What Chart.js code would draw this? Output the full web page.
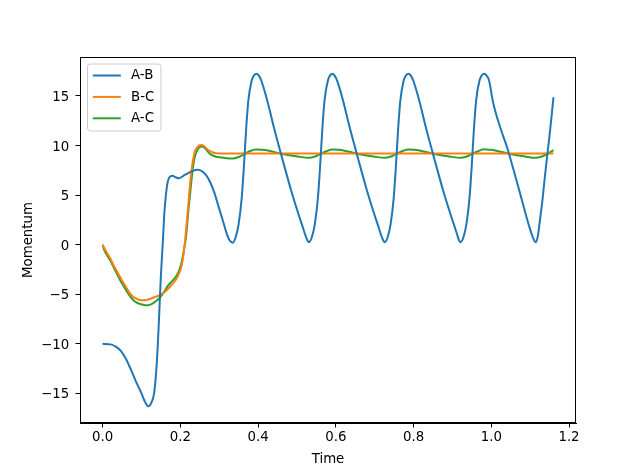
<!DOCTYPE html>
<html>
<head>
<meta charset="utf-8">
<script src="https://cdn.jsdelivr.net/npm/chart.js@4"></script>
<style>
  html, body { margin: 0; padding: 0; background: #fff; }
  #wrap { width: 640px; height: 476px; position: relative; }
</style>
</head>
<body>
<div id="wrap"><canvas id="myChart"></canvas></div>
<script>
// A-B momentum
const timeAB = [
    0, 0.021, 0.035, 0.047, 0.060, 0.073, 0.086, 0.099, 0.110, 0.118, 0.126, 0.133, 0.138, 0.142, 0.146, 0.150,
    0.155, 0.159, 0.163, 0.167, 0.172, 0.180, 0.188, 0.197, 0.208, 0.219, 0.232, 0.245, 0.256, 0.266, 0.277,
    0.288, 0.298, 0.309, 0.318, 0.326, 0.335,
    0.342, 0.350, 0.358, 0.364, 0.369, 0.375, 0.384, 0.390, 0.396,
    0.402, 0.408, 0.424, 0.439, 0.463, 0.485, 0.506, 0.514, 0.521, 0.527, 0.531,
    0.538, 0.546, 0.554, 0.560, 0.565, 0.571, 0.580, 0.586, 0.591,
    0.597, 0.603, 0.619, 0.634, 0.658, 0.680, 0.701, 0.709, 0.716, 0.722, 0.726,
    0.733, 0.741, 0.749, 0.755, 0.760, 0.766, 0.775, 0.781, 0.787,
    0.793, 0.799, 0.815, 0.830, 0.854, 0.876, 0.897, 0.905, 0.912, 0.917, 0.921,
    0.928, 0.936, 0.944, 0.950, 0.955, 0.961, 0.970, 0.976, 0.982,
    0.988, 0.994, 1.005, 1.025, 1.040, 1.057, 1.074, 1.092, 1.100, 1.107, 1.111, 1.1145,
    1.120, 1.1255, 1.132, 1.138, 1.144, 1.1496, 1.155, 1.160
];
const momentumAB = [
    -10.0, -10.05, -10.3, -10.7, -11.5, -12.6, -13.8, -14.9, -15.9, -16.3, -15.9, -14.9, -12.8, -10.2, -6.8, -3.2,
    0.2, 3.2, 5.0, 6.2, 6.8, 6.95, 6.8, 6.7, 6.95, 7.2, 7.45, 7.55, 7.4, 7.05, 6.3,
    5.2, 3.9, 2.5, 1.3, 0.5, 0.2,
    0.7, 2.05, 4.7, 8.1, 11.4, 14.5, 16.6, 17.1, 17.25,
    17.05, 16.6, 14.5, 12.1, 8.6, 5.5, 2.85, 1.9, 1.05, 0.45, 0.25,
    0.7, 2.05, 4.7, 8.1, 11.4, 14.5, 16.6, 17.1, 17.25,
    17.05, 16.6, 14.5, 12.1, 8.6, 5.5, 2.85, 1.9, 1.05, 0.45, 0.25,
    0.7, 2.05, 4.7, 8.1, 11.4, 14.5, 16.6, 17.1, 17.25,
    17.05, 16.6, 14.5, 12.1, 8.6, 5.5, 2.85, 1.9, 1.05, 0.45, 0.25,
    0.7, 2.05, 4.7, 8.1, 11.4, 14.5, 16.6, 17.1, 17.25,
    17.05, 16.6, 14.3, 11.6, 9.9, 7.6, 5.2, 2.6, 1.55, 0.75, 0.4, 0.25,
    0.9, 2.56, 4.6, 6.9, 9.0, 10.9, 12.9, 14.87
];

// B-C momentum
const timeBC = [
    0, 0.009, 0.020, 0.030, 0.043, 0.056, 0.067, 0.077, 0.088, 0.099, 0.110, 0.120, 0.133, 0.146, 0.157, 0.167,
    0.178, 0.189, 0.197, 0.203, 0.209, 0.215, 0.221, 0.226, 0.231, 0.236, 0.244, 0.253, 0.261, 0.270, 0.281,
    0.292, 0.310, 1.160
];
const momentumBC = [
    0, -0.67, -1.4, -2.2, -3.1, -4.0, -4.7, -5.2, -5.45, -5.6, -5.6, -5.5, -5.3, -5.1, -4.85, -4.5,
    -4.05, -3.5, -2.9, -2.2, -0.8, 1.5, 4.2, 6.5, 8.1, 9.2, 9.85, 10.05, 9.95, 9.6, 9.35,
    9.22, 9.2, 9.2
];

// A-C momentum
const timeAC = [
    0, 0.004, 0.009, 0.020, 0.030, 0.043, 0.056, 0.067, 0.077, 0.088, 0.099, 0.110, 0.118, 0.128, 0.137, 0.146,
    0.157, 0.167, 0.178, 0.189, 0.197, 0.203, 0.209, 0.215, 0.221, 0.228, 0.234, 0.240, 0.247, 0.255, 0.263,
    0.275, 0.290, 0.305, 0.320, 0.335,
    0.350, 0.365, 0.380, 0.395, 0.410, 0.425, 0.463, 0.502, 0.531,
    0.547, 0.562, 0.577, 0.592, 0.607, 0.620, 0.658, 0.697, 0.726,
    0.742, 0.757, 0.772, 0.787, 0.802, 0.815, 0.853, 0.892, 0.921,
    0.937, 0.952, 0.967, 0.982, 0.997, 1.010, 1.048, 1.087, 1.1145,
    1.130, 1.145, 1.160
];
const momentumAC = [
    0, -0.5, -0.9, -1.6, -2.4, -3.4, -4.3, -5.0, -5.5, -5.85, -6.0, -6.1, -6.1, -5.95, -5.7, -5.4,
    -4.85, -4.2, -3.7, -3.2, -2.6, -1.85, -0.6, 0.9, 3.5, 6.2, 8.2, 9.2, 9.75, 9.9, 9.75,
    9.2, 8.9, 8.8, 8.72, 8.7,
    8.85, 9.15, 9.45, 9.6, 9.57, 9.5, 9.15, 8.9, 8.77,
    8.9, 9.17, 9.45, 9.6, 9.57, 9.5, 9.15, 8.9, 8.77,
    8.9, 9.17, 9.45, 9.6, 9.57, 9.5, 9.15, 8.9, 8.77,
    8.9, 9.17, 9.45, 9.62, 9.57, 9.5, 9.15, 8.9, 8.77,
    8.9, 9.17, 9.53
];

const seriesLabels = ['A-B', 'B-C', 'A-C'];
const seriesColors = ['#1f77b4', '#ff7f0e', '#2ca02c'];

const xTicks = [0.0, 0.2, 0.4, 0.6, 0.8, 1.0, 1.2];
const xTickLabels = ['0.0', '0.2', '0.4', '0.6', '0.8', '1.0', '1.2'];
const yTicks = [-15, -10, -5, 0, 5, 10, 15];
const yTickLabels = ['\u221215', '\u221210', '\u22125', '0', '5', '10', '15'];

const FONT = "'DejaVu Sans', 'Liberation Sans', sans-serif";
Chart.defaults.font.family = FONT;
Chart.defaults.font.size = 13.33;
Chart.defaults.color = '#000';

function toPoints(xs, ys) {
    return xs.map((x, i) => ({ x: x, y: ys[i] }));
}

// black box around the plot area, like the matplotlib frame
const framePlugin = {
    id: 'frame',
    afterDatasetsDraw(chart) {
        const { ctx, chartArea: a } = chart;
        ctx.save();
        ctx.strokeStyle = '#000';
        ctx.lineWidth = 1;
        ctx.strokeRect(a.left + 0.5, a.top + 0.5, a.right - a.left - 1, a.bottom - a.top - 1);
        ctx.restore();
    }
};

// legend box in the upper left corner
const boxLegend = {
    id: 'boxLegend',
    afterDraw(chart) {
        const { ctx, chartArea: a } = chart;
        const left = a.left + 7.5, top = a.top + 7;
        const w = 73.5, h = 67, r = 3;
        ctx.save();
        ctx.beginPath();
        ctx.moveTo(left + r, top);
        ctx.arcTo(left + w, top, left + w, top + h, r);
        ctx.arcTo(left + w, top + h, left, top + h, r);
        ctx.arcTo(left, top + h, left, top, r);
        ctx.arcTo(left, top, left + w, top, r);
        ctx.closePath();
        ctx.fillStyle = 'rgba(255,255,255,0.8)';
        ctx.fill();
        ctx.strokeStyle = '#cccccc';
        ctx.lineWidth = 1;
        ctx.stroke();

        ctx.font = '13.33px ' + FONT;
        ctx.textBaseline = 'middle';
        ctx.fillStyle = '#000';
        chart.data.datasets.forEach((ds, i) => {
            const y = top + 11.5 + i * 21.4;
            ctx.beginPath();
            ctx.moveTo(left + 5.3, y);
            ctx.lineTo(left + 33.3, y);
            ctx.strokeStyle = ds.borderColor;
            ctx.lineWidth = 2;
            ctx.stroke();
            ctx.fillText(ds.label, left + 43.5, y + 0.5);
        });
        ctx.restore();
    }
};

const ctx = document.getElementById('myChart').getContext('2d');
const chart = new Chart(ctx, {
    type: 'line',
    data: {
        datasets: [
            { label: seriesLabels[0], data: toPoints(timeAB, momentumAB), borderColor: seriesColors[0] },
            { label: seriesLabels[1], data: toPoints(timeBC, momentumBC), borderColor: seriesColors[1] },
            { label: seriesLabels[2], data: toPoints(timeAC, momentumAC), borderColor: seriesColors[2] }
        ]
    },
    options: {
        responsive: true,
        maintainAspectRatio: false,
        animation: false,
        layout: {
            padding: { top: 57, right: 64, bottom: 0, left: 0 }
        },
        elements: {
            line: { borderWidth: 2, cubicInterpolationMode: 'monotone', fill: false },
            point: { radius: 0, hoverRadius: 0 }
        },
        plugins: {
            legend: { display: false },
            tooltip: { enabled: false },
            title: { display: false }
        },
        scales: {
            x: {
                type: 'linear',
                min: -0.058,
                max: 1.218,
                afterFit: scale => { scale.height = 53; },
                afterBuildTicks: scale => { scale.ticks = xTicks.map(v => ({ value: v })); },
                ticks: {
                    padding: 2.5,
                    autoSkip: false,
                    maxRotation: 0,
                    callback: (value) => xTickLabels[xTicks.indexOf(value)]
                },
                grid: { drawOnChartArea: false, drawTicks: true, tickLength: 4.5, color: '#000' },
                border: { display: true, color: '#000' },
                title: { display: true, text: 'Time', padding: { top: 0, bottom: 8.2 } }
            },
            y: {
                type: 'linear',
                min: -17.98,
                max: 18.93,
                afterFit: scale => { scale.width = 80; },
                afterBuildTicks: scale => { scale.ticks = yTicks.map(v => ({ value: v })); },
                ticks: {
                    padding: 6.3,
                    labelOffset: 1.5,
                    autoSkip: false,
                    callback: (value) => yTickLabels[yTicks.indexOf(value)]
                },
                grid: { drawOnChartArea: false, drawTicks: true, tickLength: 4.5, color: '#000' },
                border: { display: true, color: '#000' },
                title: { display: true, text: 'Momentum', padding: { top: 20.5, bottom: 0 } }
            }
        }
    },
    plugins: [framePlugin, boxLegend]
});
</script>
</body>
</html>
